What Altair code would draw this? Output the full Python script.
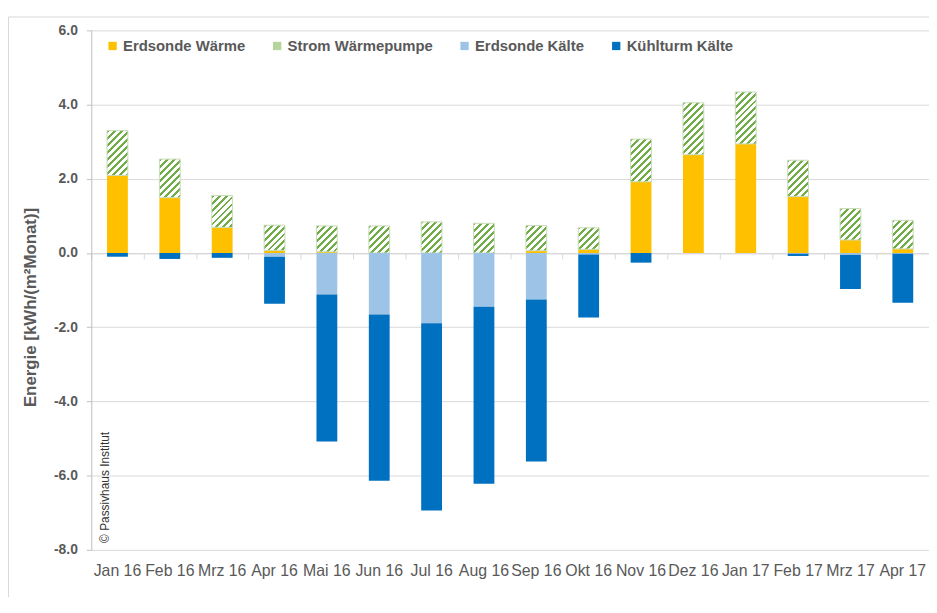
import math
import altair as alt
import pandas as pd

months = ["Jan 16", "Feb 16", "Mrz 16", "Apr 16", "Mai 16", "Jun 16", "Jul 16", "Aug 16",
          "Sep 16", "Okt 16", "Nov 16", "Dez 16", "Jan 17", "Feb 17", "Mrz 17", "Apr 17"]
erdsonde_waerme = [2.09, 1.49, 0.69, 0.07, 0.03, 0.0, 0.0, 0.0, 0.06, 0.10, 1.92, 2.65, 2.94, 1.52, 0.35, 0.11]
strom_wp = [1.21, 1.04, 0.86, 0.68, 0.70, 0.73, 0.84, 0.80, 0.68, 0.58, 1.15, 1.40, 1.40, 0.98, 0.85, 0.77]
erdsonde_kaelte = [0.0, 0.0, 0.0, -0.10, -1.12, -1.66, -1.89, -1.45, -1.25, -0.04, 0.0, 0.0, 0.0, -0.02, -0.05, -0.02]
kuehlturm_kaelte = [-0.10, -0.16, -0.13, -1.27, -3.96, -4.48, -5.05, -4.77, -4.37, -1.70, -0.26, 0.0, 0.0, -0.06, -0.92, -1.32]

series = ["Erdsonde Wärme", "Strom Wärmepumpe", "Erdsonde Kälte", "Kühlturm Kälte"]
colors = ["#ffc000", "#b5d59c", "#9dc3e6", "#0070c0"]

df = pd.DataFrame({
    "Monat": months,
    "ew": erdsonde_waerme,
    "strom": strom_wp,
    "ek": erdsonde_kaelte,
    "kt": kuehlturm_kaelte,
})
df["ew_top"] = df["ew"] + df["strom"]
df["kt_bot"] = df["ek"] + df["kt"]

W, H = 845, 524
YMIN, YMAX = -8.0, 6.0
PPU = H / (YMAX - YMIN)
BAR = 21
FONT = "Liberation Sans"
GREY = "#595959"

base = alt.Chart(df)
xscale = alt.Scale(domain=months, paddingInner=0, paddingOuter=0)
yscale = alt.Scale(domain=[YMIN, YMAX], nice=False, zero=False)
color_scale = alt.Scale(domain=series, range=colors)

tick_vals = [YMIN + 0.5 * i for i in range(int((YMAX - YMIN) * 2) + 1)]

yaxis = alt.Axis(
    values=tick_vals,
    labelExpr=("datum.value % 2 === 0 ? (datum.value < 0 ? '-' + format(-datum.value, '.1f') "
               ": format(datum.value, '.1f')) : ''"),
    gridOpacity={"condition": {"test": "datum.value % 2 !== 0", "value": 0}, "value": 1},
    gridColor="#d9d9d9",
    domainColor="#bfbfbf",
    tickColor="#bfbfbf",
    tickSize=5,
    labelPadding=9,
    labelFont=FONT, labelFontSize=14, labelFontWeight="bold", labelColor=GREY,
    title="Energie [kWh/(m²Monat)]",
    titleFont=FONT, titleFontSize=17, titleFontWeight="bold", titleColor=GREY,
    titlePadding=14,
    titleY=279,
)

xaxis_labels = alt.Axis(
    orient="bottom", domain=False, ticks=False, grid=False, labelAngle=0,
    labelFont=FONT, labelFontSize=16, labelColor=GREY, labelPadding=13, labelLimit=0,
    title=None,
)
zero_offset = -(H - (YMAX - 0) * PPU)
xaxis_zero = alt.Axis(
    orient="bottom", offset=zero_offset, labels=False, grid=False, domain=True,
    domainColor="#d9d9d9", ticks=True, tickColor="#d9d9d9", tickSize=6, tickBand="extent",
    title=None,
)

legend = alt.Legend(
    title=None, orient="none", legendX=14, legendY=8, direction="horizontal",
    symbolType="square", symbolSize=70, symbolStrokeWidth=0,
    labelFont=FONT, labelFontSize=15, labelFontWeight="bold", labelColor=GREY,
    labelOffset=3, columnPadding=24,
)
color_enc = alt.Color("series:N", scale=color_scale, legend=legend)

gold = base.transform_calculate(series="'Erdsonde Wärme'").mark_bar(size=BAR).encode(
    x=alt.X("Monat:N", sort=months, scale=xscale, axis=xaxis_labels),
    y=alt.Y("ew:Q", scale=yscale, axis=yaxis),
    y2=alt.datum(0),
    color=color_enc,
)

lightblue = base.transform_calculate(series="'Erdsonde Kälte'").mark_bar(size=BAR).encode(
    x=alt.X("Monat:N", sort=months, scale=xscale, axis=xaxis_zero),
    y=alt.Y("ek:Q", scale=yscale),
    y2=alt.datum(0),
    color=color_enc,
)

darkblue = base.transform_calculate(series="'Kühlturm Kälte'").mark_bar(size=BAR).encode(
    x=alt.X("Monat:N", sort=months, scale=xscale, axis=None),
    y=alt.Y("kt_bot:Q", scale=yscale),
    y2=alt.Y2("ek:Q"),
    color=color_enc,
)

# hatched bars (diagonal stripes via gradient), one per month so stripes stay at 45 degrees
hatch_layers = []
P = 7.0
for m, s in zip(months, strom_wp):
    h = max(s * PPU, 1.0)
    w = float(BAR)
    L = w + h
    scale_len = (w * w + h * h) / L
    n = L / P
    stops = []
    k = 0
    while k < n + 1:
        a = min(k / n, 1.0)
        b = min((k + 0.42) / n, 1.0)
        c = min((k + 1) / n, 1.0)
        stops += [
            alt.GradientStop(offset=a, color="#70ad47"),
            alt.GradientStop(offset=b, color="#70ad47"),
            alt.GradientStop(offset=b, color="#ffffff"),
            alt.GradientStop(offset=c, color="#ffffff"),
        ]
        k += 1
    grad = alt.LinearGradient(gradient="linear", stops=stops,
                              x1=0, y1=0, x2=w / scale_len, y2=h / scale_len)
    layer = base.transform_filter(alt.datum.Monat == m).mark_bar(
        size=BAR, fill=grad, stroke="#c9dcb9", strokeWidth=1
    ).encode(
        x=alt.X("Monat:N", sort=months, scale=xscale, axis=None),
        y=alt.Y("ew_top:Q", scale=yscale),
        y2=alt.Y2("ew:Q"),
    )
    hatch_layers.append(layer)

copyright_txt = alt.Chart(pd.DataFrame({"t": ["© Passivhaus Institut"]})).mark_text(
    angle=270, align="left", baseline="middle", font=FONT, fontSize=12, color="#333333"
).encode(text="t:N", x=alt.value(14), y=alt.value(H - 7))

frame = alt.Chart(pd.DataFrame({"a": [0]})).mark_rect(
    fill="transparent", stroke="#d9d9d9", strokeWidth=1
).encode(x=alt.value(-83.5), x2=alt.value(W + 20), y=alt.value(-13.5), y2=alt.value(H + 120))

chart = alt.layer(
    frame, gold, *hatch_layers, lightblue, darkblue, copyright_txt
).resolve_axis(x="independent").properties(
    width=W, height=H,
    padding={"left": 84, "top": 20, "right": 0, "bottom": 45},
    autosize=alt.AutoSizeParams(type="none"),
).configure_view(stroke="transparent")

chart.save("out.html", embed_options={"renderer": "svg", "actions": False})
